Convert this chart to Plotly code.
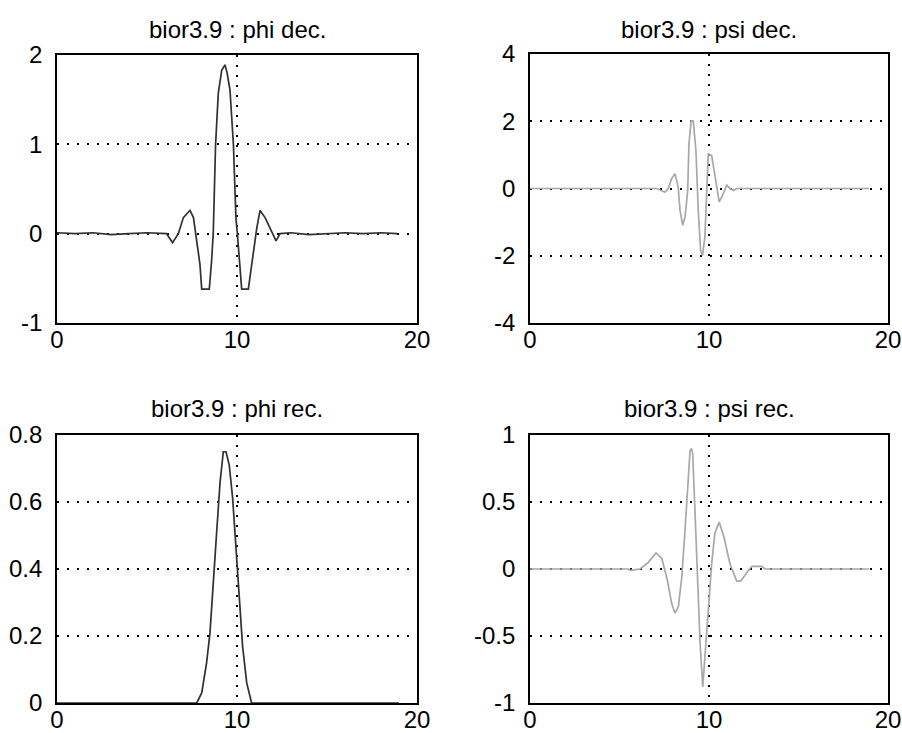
import plotly.graph_objects as go

# ---- data ----
phi_dec_x = [0, 1, 2, 3, 4, 5, 6.09, 6.42, 6.74, 7.02, 7.2, 7.39, 7.58, 7.76, 7.94, 8.04, 8.46,
             8.59, 8.68, 8.81, 8.96, 9.15, 9.33, 9.45, 9.61, 9.8, 9.94, 10.02, 10.26, 10.63,
             10.81, 11.0, 11.09, 11.28, 11.56, 11.83, 12.17, 12.39, 13, 14, 15, 16, 17, 18, 18.9]
phi_dec_y = [0.01, 0.0, 0.01, -0.01, 0.0, 0.01, 0.0, -0.10, 0.0, 0.18, 0.22, 0.26, 0.18, -0.08, -0.34, -0.62, -0.62,
             -0.30, 0.0, 1.0, 1.57, 1.83, 1.89, 1.80, 1.61, 1.0, 0.18, 0.0, -0.62, -0.62,
             -0.38, -0.08, 0.05, 0.26, 0.18, 0.07, -0.08, 0.0, 0.01, -0.01, 0.0, 0.01, 0.0, 0.01, 0.0]

psi_dec_x = [0, 7.08, 7.54, 7.72, 7.91, 8.1, 8.28, 8.38, 8.53, 8.66, 8.81, 8.88, 9.0, 9.12, 9.27,
             9.4, 9.53, 9.64, 9.77, 9.9, 9.96, 10.15, 10.28, 10.43, 10.57, 10.76, 10.99, 11.17,
             11.36, 11.55, 18.94]
psi_dec_y = [0, 0, -0.11, 0, 0.29, 0.44, 0.04, -0.65, -1.09, -0.85, -0.06, 1.32, 2.01, 2.01, 1.13,
             -0.65, -1.84, -1.99, -1.44, 0.34, 1.03, 0.98, 0.53, -0.06, -0.40, -0.20, 0.10, 0.0,
             -0.06, 0.0, 0.0]

phi_rec_x = [0, 7.76, 8.04, 8.31, 8.5, 8.69, 8.87, 9.06, 9.24, 9.39, 9.57, 9.76, 9.94, 10.13,
             10.31, 10.54, 10.81, 19]
phi_rec_y = [0, 0, 0.03, 0.12, 0.21, 0.35, 0.51, 0.66, 0.75, 0.75, 0.71, 0.61, 0.47, 0.30,
             0.17, 0.06, 0, 0]

psi_rec_x = [0, 5.49, 5.59, 6.15, 6.61, 7.04, 7.36, 7.67, 7.92, 8.1, 8.29, 8.48, 8.66, 8.79, 8.94,
             9.02, 9.09, 9.22, 9.35, 9.5, 9.65, 9.9, 9.96, 10.15, 10.33, 10.57, 10.83, 11.17, 11.55,
             11.77, 12.1, 12.39, 12.95, 13.13, 18.94]
psi_rec_y = [0, 0, -0.01, 0, 0.05, 0.12, 0.08, -0.08, -0.26, -0.33, -0.28, -0.06, 0.29, 0.59, 0.88,
             0.90, 0.86, 0.42, -0.08, -0.55, -0.88, -0.41, -0.26, 0.04, 0.27, 0.35, 0.24, 0.04, -0.09,
             -0.09, -0.03, 0.02, 0.02, 0, 0]

titles = ["bior3.9 : phi dec.", "bior3.9 : psi dec.", "bior3.9 : phi rec.", "bior3.9 : psi rec."]
x_ticks = [0, 10, 20]
y_ticks = [[-1, 0, 1, 2], [-4, -2, 0, 2, 4], [0, 0.2, 0.4, 0.6, 0.8], [-1, -0.5, 0, 0.5, 1]]
y_ticktext = [["-1", "0", "1", "2"], ["-4", "-2", "0", "2", "4"],
              ["0", "0.2", "0.4", "0.6", "0.8"], ["-1", "-0.5", "0", "0.5", "1"]]
y_ranges = [[-1, 2], [-4, 4], [0, 0.8], [-1, 1]]

curves = [(phi_dec_x, phi_dec_y, "#303030"), (psi_dec_x, psi_dec_y, "#a8a8a8"),
          (phi_rec_x, phi_rec_y, "#303030"), (psi_rec_x, psi_rec_y, "#a8a8a8")]

W, H = 902, 733
# pixel boxes (left, right, top, bottom)
boxes = [(57, 417, 55, 323), (530, 888, 54, 323), (57, 417, 435, 703), (530, 888, 435, 703)]
title_y = [30, 30, 408, 408]

fig = go.Figure()
font_family = "Liberation Sans, Arial, sans-serif"
annotations = []
for i, ((xs, ys, col), (l, r, t, b)) in enumerate(zip(curves, boxes)):
    n = "" if i == 0 else str(i + 1)
    fig.add_trace(go.Scatter(x=xs, y=ys, mode="lines", line=dict(color=col, width=1.7),
                             xaxis="x" + n, yaxis="y" + n, showlegend=False, hoverinfo="skip"))
    common = dict(showline=True, linecolor="black", linewidth=1.8, mirror=True,
                  showgrid=True, gridcolor="black", gridwidth=1.6, griddash="2px,8px",
                  zeroline=False, ticks="", automargin=False,
                  tickfont=dict(size=24, color="black", family=font_family))
    fig.update_layout(**{
        "xaxis" + n: dict(domain=[l / W, r / W], range=[0, 20], tickvals=x_ticks,
                          anchor="y" + n, ticklabelstandoff=-6, **common),
        "yaxis" + n: dict(domain=[1 - b / H, 1 - t / H], range=y_ranges[i], tickvals=y_ticks[i],
                          ticktext=y_ticktext[i], anchor="x" + n, ticklabelstandoff=8, **common),
    })
    annotations.append(dict(text=titles[i], x=(l + r) / 2 / W, y=1 - title_y[i] / H,
                            xref="paper", yref="paper", showarrow=False, xanchor="center",
                            yanchor="middle", font=dict(size=24, color="black", family=font_family)))

fig.update_layout(width=W, height=H, margin=dict(l=0, r=0, t=0, b=0), template="none",
                  paper_bgcolor="white", plot_bgcolor="white", annotations=annotations)
fig.write_html("out.html")
